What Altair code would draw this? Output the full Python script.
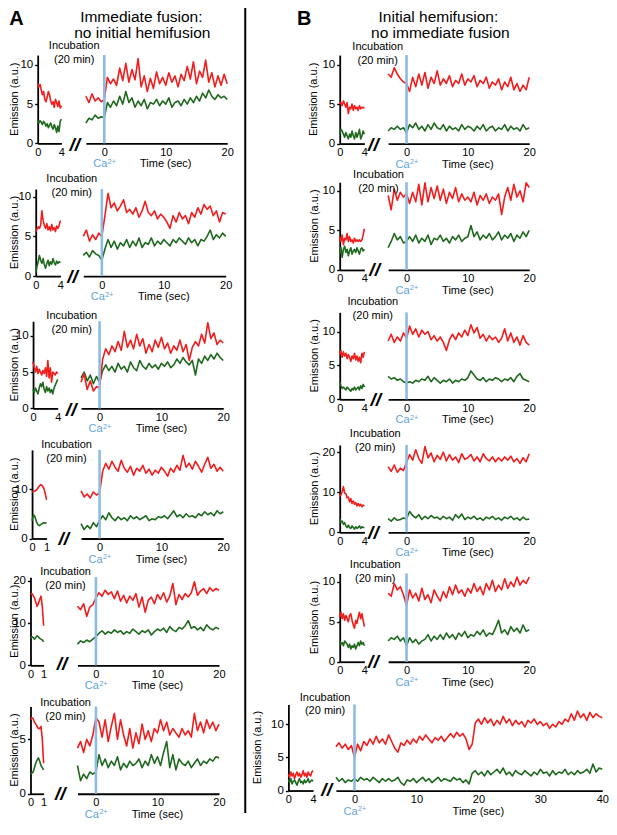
import altair as alt
import pandas as pd

FONT = "Liberation Sans"
RED = "#f21c1c"
GREEN = "#1f691f"
BLUE = "#8dbce3"
BLUE_TXT = "#5ea3da"
W, H = 601, 814
SX = 0.987   # slight horizontal compression so the page does not overflow
SY = 0.978   # slight vertical compression so the page does not overflow


def XC(xr):
    return 6 + (xr - 14) * SX


def YC(yr):
    return 6 + (yr - 11) * SY


# ---------------- data (emission, a.u.) ----------------
# pre-incubation traces: 0..4 s step 0.2  (or 0..1 s step 0.1)
# post-Ca traces: -3..20 s (or -3..40 s) step 0.5
A1_pre_red = [7.6,7.2,7.5,6.8,6.2,6.6,5.6,5.3,5.9,6.6,6.2,5.4,5.0,5.3,4.6,5.6,5.2,4.7,5.4,4.5,4.8]
A1_pre_green = [3.0,2.6,2.9,2.7,2.4,2.8,2.6,2.2,2.5,2.0,2.3,2.6,2.1,1.8,2.4,2.0,1.4,2.2,1.5,2.8,3.1]
A1_red = [6.0,5.2,6.3,5.4,5.8,5.3,5.6,
          8.4,7.6,8.2,7.4,9.6,8.0,10.2,7.8,9.4,8.1,
          10.8,7.2,8.6,6.6,8.3,7.0,9.1,7.6,8.4,7.4,
          9.0,7.8,8.6,7.2,8.8,8.0,9.8,8.2,10.4,7.6,
          9.2,8.4,10.6,7.8,9.0,7.2,8.6,7.4,8.8,7.6]
A1_green = [2.6,3.2,3.0,3.6,3.2,3.4,3.3,
            5.2,4.6,5.4,4.8,6.0,5.0,6.6,5.2,5.8,4.6,
            5.4,4.8,5.6,4.4,5.2,5.0,5.6,4.8,5.4,5.0,
            5.8,4.6,5.2,5.4,4.8,5.6,5.0,5.8,5.2,6.0,
            5.4,6.4,5.8,6.8,6.0,5.6,6.2,5.8,6.0,5.6]

A2_pre_red = [5.6,5.9,6.2,6.0,6.4,8.2,7.0,6.4,6.0,6.6,5.8,6.2,5.7,6.5,5.8,6.1,5.6,6.3,6.0,6.4,7.0]
A2_pre_green = [0.4,1.2,1.8,2.6,2.0,1.6,2.2,1.4,1.0,1.6,2.0,1.3,1.8,1.5,2.2,1.7,1.4,1.9,1.6,1.8,1.7]
A2_red = [5.0,5.8,4.4,5.2,4.6,5.4,5.0,
          7.6,10.4,8.6,9.2,8.2,8.8,9.6,8.0,8.4,7.8,
          8.6,7.4,8.2,9.4,8.0,7.6,8.2,7.2,7.8,7.4,
          6.8,6.0,7.6,6.8,8.0,7.2,7.6,6.6,8.0,7.4,
          8.6,7.8,9.0,8.4,8.8,7.6,8.2,6.8,8.0,7.8]
A2_green = [2.6,3.0,2.4,3.2,2.8,2.6,2.0,
            3.4,4.6,3.6,4.4,3.4,4.2,3.8,4.6,3.6,4.4,
            3.8,4.8,3.6,4.2,4.0,4.8,3.8,4.4,4.0,4.6,
            4.2,3.8,4.6,4.2,4.8,4.4,4.0,4.8,4.2,4.6,
            3.8,4.6,4.4,5.0,5.8,4.6,5.2,4.8,5.4,5.0]

A3_pre_red = [6.4,5.6,5.0,5.8,4.8,5.4,5.0,4.6,5.2,4.8,5.6,4.4,6.6,4.2,5.6,3.6,5.0,4.8,4.6,5.0,4.8]
A3_pre_green = [2.6,2.2,2.8,2.4,2.0,2.8,3.4,3.0,3.6,2.6,2.2,3.0,2.4,2.8,2.2,2.6,2.0,2.8,3.2,3.6,4.0]
A3_red = [3.6,4.8,2.6,3.8,2.4,3.0,2.8,
          6.8,8.2,7.4,8.6,7.8,9.2,8.0,10.6,8.4,9.4,
          8.2,10.2,8.6,9.6,7.6,8.8,7.8,9.4,8.4,9.8,
          8.2,9.0,7.6,8.6,8.0,9.4,7.8,8.8,6.6,8.4,
          9.2,8.6,10.2,9.0,11.8,9.6,10.4,8.8,9.4,9.0]
A3_green = [4.2,5.0,3.8,4.6,3.4,4.4,3.6,
            5.2,6.0,5.2,5.8,5.0,6.2,5.4,5.8,5.0,6.4,
            5.6,5.2,6.6,5.8,5.4,6.2,5.6,6.0,5.4,6.2,
            5.8,6.4,5.6,6.0,6.8,6.2,7.0,6.4,6.0,6.6,
            4.6,6.8,6.2,7.2,6.6,7.4,6.8,7.6,7.0,6.6]

A4_pre_red = [9.4,9.5,9.6,9.8,10.2,10.6,10.9,10.7,10.2,9.2,7.8]
A4_pre_green = [3.6,4.8,4.4,3.4,2.8,2.6,2.8,3.0,3.2,3.1,3.2]
A4_red = [9.6,8.4,9.0,8.2,9.4,8.8,9.2,
          13.6,15.2,14.0,15.6,14.4,13.6,15.8,14.2,13.4,14.6,
          12.8,14.2,13.6,14.8,13.2,14.0,12.8,13.8,13.2,14.4,
          13.6,12.6,14.2,13.4,14.8,13.8,16.8,14.4,15.2,14.0,
          15.6,14.6,13.4,15.0,16.4,14.2,15.0,13.6,14.4,13.6]
A4_green = [3.0,1.8,2.6,2.0,3.2,2.4,3.6,
            4.6,3.8,5.2,4.2,3.6,4.4,3.8,4.2,3.6,4.6,
            4.0,4.4,3.8,4.2,4.6,3.6,4.0,3.8,4.4,4.2,
            4.6,4.0,4.8,5.6,4.4,4.8,4.2,5.0,4.4,4.6,
            4.2,5.0,4.6,5.4,4.8,5.2,4.6,5.6,5.0,5.4]

A5_pre_red = [16.8,17.0,16.6,16.0,15.0,14.0,14.6,15.6,16.4,14.0,9.4]
A5_pre_green = [6.4,6.8,6.6,6.2,6.6,7.0,6.8,6.4,6.2,6.0,5.6]
A5_red = [14.0,13.2,14.6,11.6,13.8,14.4,16.0,
          17.2,16.4,17.8,16.8,17.4,15.8,17.6,15.2,16.6,14.8,
          16.4,15.4,17.0,13.8,16.2,12.6,15.4,16.2,14.6,16.8,
          15.6,17.2,15.0,16.4,19.4,14.4,16.8,15.6,17.0,16.2,
          17.2,19.8,16.6,17.6,18.2,17.0,18.4,17.6,18.2,17.8]
A5_green = [5.0,5.8,5.4,6.0,5.6,6.2,6.8,
            7.6,8.2,7.4,8.0,7.6,8.4,7.8,8.2,7.4,8.0,
            7.6,8.6,8.0,7.4,8.2,7.8,8.4,7.2,8.0,8.6,
            8.2,8.8,7.8,9.2,8.4,8.0,9.0,8.6,9.4,10.6,
            8.8,9.2,8.4,9.0,8.2,9.6,8.8,8.4,9.0,8.6]

A6_pre_red = [6.8,7.0,6.9,6.6,6.4,6.2,6.0,6.0,6.2,5.0,2.8]
A6_pre_green = [1.8,1.9,2.0,2.4,2.8,3.1,3.3,3.0,2.6,2.4,2.2]
A6_red = [4.2,4.8,3.8,5.0,4.4,5.4,7.0,
          6.6,5.2,6.8,4.8,6.2,7.4,5.0,6.8,5.4,4.4,
          6.0,4.2,5.6,4.6,6.4,5.0,5.8,4.8,6.0,5.6,
          6.8,5.8,6.6,5.4,6.0,5.6,5.2,6.0,5.4,5.8,
          5.2,7.4,5.8,6.6,5.6,6.8,6.0,6.6,5.8,6.4]
A6_green = [2.6,1.2,1.8,1.4,2.0,1.8,2.0,
            3.6,2.6,3.2,2.4,3.0,2.6,3.4,2.2,2.8,2.4,
            3.0,2.6,2.8,3.2,2.4,3.0,2.6,3.6,2.8,3.4,
            2.6,3.8,4.8,2.4,3.6,2.2,3.2,2.8,2.6,3.0,
            2.4,2.8,3.2,2.6,3.0,2.8,3.2,3.0,3.4,3.3]

B1_pre_red = [5.0,5.2,4.8,5.4,5.0,4.6,5.2,3.8,4.6,4.4,5.0,4.2,4.8,4.4,4.6,4.2,4.8,4.4,4.6,4.5,4.6]
B1_pre_green = [1.2,1.8,1.6,1.2,0.8,1.4,1.0,0.6,1.2,0.8,1.6,1.0,0.6,1.4,0.8,1.2,1.8,0.6,1.0,1.6,1.2]
B1_red = [8.8,8.4,9.6,8.8,8.2,7.8,7.6,
          6.6,8.4,7.2,8.8,7.4,9.0,7.0,8.4,7.6,9.2,
          7.4,8.2,7.6,8.6,7.2,8.0,7.6,8.8,7.4,8.2,
          7.8,8.6,7.2,8.0,7.6,8.4,7.0,7.8,7.4,8.2,
          6.8,7.8,7.2,8.4,6.8,7.6,6.6,7.4,6.8,8.4]
B1_green = [1.6,2.0,1.8,2.2,1.8,2.0,1.4,
            2.4,2.0,2.6,1.8,2.2,1.6,2.4,1.8,2.6,2.0,
            1.8,2.4,1.6,2.2,1.8,2.0,1.6,2.4,1.8,2.2,
            2.0,1.6,2.2,1.8,2.4,1.6,2.0,2.2,1.6,2.0,
            1.8,2.4,1.6,2.2,1.8,2.0,1.6,2.4,1.8,2.0]

B2_pre_red = [4.2,3.6,4.4,3.2,4.0,3.8,4.6,3.6,4.2,3.6,3.8,3.4,4.0,3.6,3.8,3.6,3.8,3.6,3.8,4.4,5.2]
B2_pre_green = [2.0,2.8,1.6,2.6,3.0,2.2,2.6,1.8,2.4,2.8,2.0,2.4,2.6,2.2,2.8,2.4,2.0,2.6,2.8,2.4,2.6]
B2_red = [9.4,7.6,10.2,8.8,9.8,9.2,9.6,
          8.4,9.8,8.6,10.8,8.2,11.0,8.6,10.4,9.0,10.6,
          8.8,10.2,8.4,9.8,9.0,10.4,8.6,9.6,8.8,9.2,
          8.6,9.8,8.2,9.4,8.8,9.6,8.4,9.2,8.8,9.6,
          7.0,9.2,10.4,8.8,10.8,9.2,10.0,8.6,11.0,10.4]
B2_green = [2.8,3.6,4.6,3.8,4.2,3.4,3.6,
            4.2,3.6,4.4,3.4,4.0,3.6,4.4,3.2,4.0,3.8,
            4.4,3.6,4.0,3.4,4.2,3.8,4.4,3.6,4.0,4.2,
            5.6,4.2,4.8,3.8,4.4,4.0,4.6,3.8,4.2,4.8,
            3.8,4.4,4.0,4.6,3.6,4.4,4.0,4.8,4.2,5.0]

B3_pre_red = [6.6,7.2,6.2,7.0,6.4,6.8,6.0,6.6,6.2,5.6,6.4,6.0,6.8,5.8,6.4,5.6,6.2,5.4,6.8,6.2,7.0]
B3_pre_green = [2.6,2.0,1.6,1.8,1.6,1.4,1.8,1.6,1.4,1.2,1.6,1.4,1.8,1.4,1.6,1.8,1.4,2.0,1.6,2.2,1.8]
B3_red = [8.6,9.6,8.4,9.2,8.6,9.8,9.0,
          10.8,9.6,10.4,9.2,10.2,9.6,10.0,8.8,9.4,8.6,
          9.2,8.4,7.2,8.8,9.6,8.8,9.8,9.2,10.2,9.4,
          11.0,9.8,10.6,9.0,9.6,8.6,9.4,8.8,9.2,8.4,
          9.0,10.4,8.6,9.8,8.4,9.2,8.0,9.4,8.4,8.0]
B3_green = [3.4,3.0,3.2,2.8,3.0,2.6,2.4,
            2.6,2.4,2.8,2.6,3.0,2.8,3.4,2.6,3.2,2.8,
            2.4,2.8,2.6,3.0,2.4,2.8,2.6,3.0,2.8,3.2,
            4.2,3.6,3.0,2.8,3.2,2.6,3.0,2.8,3.2,3.0,
            2.6,3.0,2.8,3.2,2.6,3.4,3.8,3.0,2.8,2.6]

B4_pre_red = [9.0,9.4,10.2,11.4,9.8,9.6,8.6,8.8,7.6,8.4,7.2,7.8,7.0,7.4,6.6,7.2,6.6,7.0,6.4,6.8,6.6]
B4_pre_green = [3.4,2.6,2.8,2.0,2.4,1.6,1.2,1.8,1.2,1.0,1.6,1.2,0.8,1.4,1.0,1.2,1.6,1.0,1.4,1.2,1.2]
B4_red = [16.4,15.2,16.8,15.0,16.0,15.4,17.4,
          19.4,18.0,20.6,18.4,17.2,21.4,18.6,19.8,17.6,19.2,
          18.2,20.0,17.8,19.4,18.0,18.8,17.4,19.6,18.2,18.6,
          19.4,17.8,18.8,17.6,19.6,18.4,17.8,18.8,17.6,18.6,
          17.8,18.8,18.0,19.0,17.6,18.4,17.2,18.6,17.6,19.6]
B4_green = [3.4,2.8,3.6,3.0,3.2,3.6,3.4,
            5.2,4.2,3.6,4.4,3.2,4.0,3.4,4.2,3.6,3.8,
            3.2,4.0,3.4,3.8,3.0,4.4,3.6,4.6,3.2,3.8,
            3.4,4.0,3.2,3.6,3.0,3.8,3.4,4.0,3.2,3.6,
            3.0,3.8,3.4,4.0,3.2,3.6,3.0,3.8,3.2,3.3]

B5_pre_red = [5.6,6.2,5.4,6.0,5.2,5.8,5.4,5.0,5.8,6.0,5.2,4.6,4.2,5.2,4.8,5.6,6.2,5.4,6.0,5.2,4.4]
B5_pre_green = [2.6,2.2,2.4,2.0,2.6,2.4,2.2,1.8,2.2,1.6,2.0,1.8,2.2,1.6,2.0,2.4,2.0,2.6,2.2,2.4,2.0]
B5_red = [8.6,8.2,9.8,9.0,9.4,8.4,7.0,
          9.0,8.0,8.6,7.6,9.2,7.8,8.4,7.4,9.0,8.2,
          7.6,8.8,8.0,9.4,8.4,9.6,8.6,9.0,8.2,9.2,
          8.6,9.8,8.8,9.4,8.4,9.8,9.0,10.2,8.8,9.6,
          9.0,10.4,9.2,10.0,9.4,10.6,9.6,10.2,9.8,10.6]
B5_green = [2.6,3.0,2.8,3.2,2.6,3.0,2.0,
            3.0,2.4,2.8,2.2,2.6,2.8,3.4,2.6,3.2,2.8,
            3.4,2.8,3.6,3.0,3.4,2.8,3.6,3.2,3.8,3.0,
            3.4,3.2,3.8,3.4,4.0,3.2,3.6,3.4,4.2,5.2,
            3.6,4.0,3.4,4.4,3.8,4.2,3.6,4.6,3.8,4.0]

B6_pre_red = [2.4,2.0,2.8,2.2,2.6,1.8,2.4,2.8,2.2,2.6,2.0,2.4,3.0,2.2,2.6,2.0,2.8,2.4,2.2,2.8,3.0]
B6_pre_green = [1.6,1.2,1.8,1.0,1.4,1.6,1.2,0.8,1.4,1.8,1.2,1.4,1.0,1.6,1.2,1.4,1.8,1.2,1.4,1.6,1.4]
B6_red = [6.6,7.2,6.4,7.0,6.2,6.8,5.0,
          7.0,6.0,7.4,6.8,7.8,7.0,8.2,7.2,7.8,7.0,
          8.4,7.4,6.4,5.8,7.2,6.8,7.6,7.0,7.8,7.2,
          8.2,7.6,8.4,7.8,7.2,8.0,7.6,8.2,7.4,8.0,
          8.6,8.0,8.8,8.2,8.6,7.8,6.2,7.0,10.2,10.8,
          10.0,11.0,10.2,10.8,9.8,10.6,10.0,11.2,10.2,10.8,
          9.8,10.6,10.0,10.4,9.6,10.6,10.2,10.8,10.0,10.4,
          9.8,10.2,9.4,10.0,9.6,10.4,10.0,10.8,10.4,11.6,
          10.6,12.0,11.0,11.6,10.6,11.8,11.0,11.6,11.2,11.0]
B6_green = [2.0,1.4,1.8,1.2,1.6,1.4,1.8,
            1.4,2.0,1.6,1.8,1.4,2.0,1.6,1.2,1.8,1.4,
            1.8,1.4,1.6,2.0,1.2,0.8,1.6,1.4,1.8,1.2,
            1.6,2.0,1.4,1.8,1.2,1.6,2.0,1.4,1.8,1.6,
            1.4,2.0,1.6,1.8,1.2,1.6,1.0,2.6,3.0,2.4,
            2.8,2.2,3.0,2.4,2.8,3.2,2.6,3.4,2.4,2.8,
            2.2,3.0,2.6,2.4,3.0,2.6,2.2,2.8,2.4,3.2,
            2.6,2.8,2.2,3.0,2.4,2.8,2.6,3.2,2.4,2.8,
            2.4,3.0,2.6,2.8,3.2,2.6,4.0,2.8,3.4,3.2]

# ---------------- panel geometry (reference pixels) ----------------
def P(name, pre_red, pre_green, pre_max, pre_x, main_red, main_green, tmax, main_x,
      y0, yref, ytop, yticks, xticks, brk, brk_dy, incub, emis_x, time_t=10, ca_dy=21):
    return dict(name=name, pre_red=pre_red, pre_green=pre_green, pre_max=pre_max,
                pre_step=0.2 if pre_max == 4 else 0.1, pre_x=pre_x,
                main_red=main_red, main_green=main_green, tmax=tmax, main_x=main_x,
                y0=y0, yref=yref, ytop=ytop, yticks=yticks, xticks=xticks, brk=brk,
                brk_dy=brk_dy, incub=incub, emis_x=emis_x, time_t=time_t, ca_dy=ca_dy)

T20 = [0, 10, 20]
PANELS = [
    P("A1", A1_pre_red, A1_pre_green, 4, (38, 62), A1_red, A1_green, 20, (105.5, 230),
      143.3, (10, 63), 11.25, [0, 5, 10], T20, -4.8, 2, (75, 43.7, 57.7), 6),
    P("A2", A2_pre_red, A2_pre_green, 4, (36, 61), A2_red, A2_green, 20, (103, 228.5),
      279, (10, 197.7), 10.95, [0, 5, 10], T20, -4.75, 0.5, (72.5, 179.5, 193.8), 11),
    P("A3", A3_pre_red, A3_pre_green, 4, (33.3, 58.3), A3_red, A3_green, 20, (100.7, 226),
      414.3, (10, 340), 12.0, [0, 5, 10], T20, -4.6, 2, (72.5, 319.5, 333.8), 9),
    P("A4", A4_pre_red, A4_pre_green, 1, (32.3, 47), A4_red, A4_green, 20, (100.7, 226),
      547.3, (10, 496.7), 17.9, [0, 10], T20, -5.8, 0.5, (67.2, 452, 466.2), 8),
    P("A5", A5_pre_red, A5_pre_green, 1, (30.7, 44), A5_red, A5_green, 20, (97, 221.7),
      677, (20, 590.7), 20.9, [0, 10, 20], T20, -5.5, -1, (66.2, 582, 596.2), 6),
    P("A6", A6_pre_red, A6_pre_green, 1, (30.7, 44), A6_red, A6_green, 20, (97, 221.7),
      808.3, (5, 752.7), 8.03, [0, 5], T20, -5.8, 0.5, (66.2, 715.3, 729.5), 6),
    P("B1", B1_pre_red, B1_pre_green, 4, (344, 369), B1_red, B1_green, 20, (411.7, 536),
      143.5, (10, 62.7), 11.2, [0, 5, 10], T20, -5.4, 1.5, (382.5, 44.7, 58.7), 318),
    P("B2", B2_pre_red, B2_pre_green, 4, (344, 369), B2_red, B2_green, 20, (411.7, 536),
      272.7, (10, 191.7), 11.07, [0, 5, 10], T20, -5.2, 0.5, (383.3, 176.0, 189.6), 319),
    P("B3", B3_pre_red, B3_pre_green, 4, (344, 369), B3_red, B3_green, 20, (411.7, 536),
      405, (10, 335.7), 12.84, [0, 5, 10], T20, -5.0, 0.5, (377.5, 305.5, 320.3), 319),
    P("B4", B4_pre_red, B4_pre_green, 4, (344, 369), B4_red, B4_green, 20, (411.7, 536),
      541, (20, 459), 21.8, [0, 10, 20], T20, -5.4, 0.5, (380, 440.5, 454.7), 319),
    P("B5", B5_pre_red, B5_pre_green, 4, (344, 369), B5_red, B5_green, 20, (411.7, 536),
      673.3, (10, 591.7), 11.07, [0, 5, 10], T20, -5.4, 0.5, (380, 574.7, 588.7), 319),
    P("B6", B6_pre_red, B6_pre_green, 4, (292, 317), B6_red, B6_green, 40, (359, 610),
      805, (10, 737.3), 13.0, [0, 5, 10], [0, 10, 20, 30, 40], -4.5, -1, (329.2, 710.3, 723.8), 261,
      time_t=20),
]


def line_df(vals, start, step):
    return pd.DataFrame({"t": [round(start + step * i, 3) for i in range(len(vals))], "v": vals})


def one(**kw):
    return pd.DataFrame({k: [v] for k, v in kw.items()})


def xaxis(offset, values):
    return alt.Axis(orient="bottom", offset=offset, values=values, tickSize=0, labelPadding=3,
                    labelFontSize=11, grid=False, title=None, labelFlush=False, labelOverlap=False,
                    format="d")


def panel_layers(p):
    k = (p["y0"] - p["yref"][1]) / p["yref"][0]
    ytop_px = p["y0"] - p["ytop"] * k
    y0c, ytc = YC(p["y0"]), YC(ytop_px)
    y_rng = [y0c, ytc]
    ydom = [0, p["ytop"]]
    xoff = y0c - H

    # ---- pre-incubation panel ----
    pre_rng = [XC(p["pre_x"][0]), XC(p["pre_x"][1])]
    Xp = alt.X("t:Q", scale=alt.Scale(domain=[0, p["pre_max"]], range=pre_rng, nice=False, zero=False),
               axis=xaxis(xoff, [0, p["pre_max"]]))
    Yp = alt.Y("v:Q", scale=alt.Scale(domain=ydom, range=y_rng, nice=False, zero=False),
               axis=alt.Axis(orient="left", offset=-XC(p["pre_x"][0]), values=p["yticks"], tickSize=3,
                             tickWidth=1.4, labelPadding=2, labelFontSize=11.5, grid=False, title=None,
                             labelFlush=False, labelOverlap=False, format="d"))
    pre = alt.layer(
        alt.Chart(line_df(p["pre_green"], 0, p["pre_step"])).mark_line(
            color=GREEN, strokeWidth=1.6, strokeJoin="round").encode(x=Xp, y=Yp),
        alt.Chart(line_df(p["pre_red"], 0, p["pre_step"])).mark_line(
            color=RED, strokeWidth=1.6, strokeJoin="round").encode(x=Xp, y=Yp),
    )

    # ---- post-Ca panel ----
    s = (p["main_x"][1] - p["main_x"][0]) / p["tmax"]
    main_rng = [XC(p["main_x"][0] - 3 * s), XC(p["main_x"][1])]
    Xm = alt.X("t:Q", scale=alt.Scale(domain=[-3, p["tmax"]], range=main_rng, nice=False, zero=False),
               axis=xaxis(xoff, p["xticks"]))
    Ym = alt.Y("v:Q", scale=alt.Scale(domain=ydom, range=y_rng, nice=False, zero=False), axis=None)
    txt = dict(font=FONT, baseline="middle")
    cdy = p["ca_dy"]
    main = alt.layer(
        alt.Chart(line_df(p["main_green"], -3, 0.5)).mark_line(
            color=GREEN, strokeWidth=1.6, strokeJoin="round").encode(x=Xm, y=Ym),
        alt.Chart(line_df(p["main_red"], -3, 0.5)).mark_line(
            color=RED, strokeWidth=1.6, strokeJoin="round").encode(x=Xm, y=Ym),
        alt.Chart(one(t=0, v=0, v2=p["ytop"])).mark_rule(color=BLUE, strokeWidth=2.6).encode(
            x=Xm, y=Ym, y2="v2:Q"),
        alt.Chart(one(t=0, v=0)).mark_text(text="Ca", align="right", dx=3, dy=cdy,
                                           fontSize=11, color=BLUE_TXT, **txt).encode(x=Xm, y=Ym),
        alt.Chart(one(t=0, v=0)).mark_text(text="2+", align="left", dx=3.5, dy=cdy - 2.5,
                                           fontSize=7, color=BLUE_TXT, **txt).encode(x=Xm, y=Ym),
        alt.Chart(one(t=p["time_t"], v=0)).mark_text(text="Time (sec)", align="center", dy=cdy,
                                                     fontSize=11, color="black", **txt).encode(x=Xm, y=Ym),
        alt.Chart(one(t=p["brk"], v=0)).mark_text(text="//", align="center", dy=p["brk_dy"], fontSize=19,
                                                  fontStyle="italic", fontWeight="bold", color="black",
                                                  **txt).encode(x=Xm, y=Ym),
    )
    return [pre, main], (p["y0"] + ytop_px) / 2


layers = []
incub_rows, emis_rows = [], []
for p in PANELS:
    pl, ymid = panel_layers(p)
    layers += pl
    ix, iy1, iy2 = p["incub"]
    incub_rows.append({"x": XC(ix), "y": YC(iy1), "text": "Incubation"})
    incub_rows.append({"x": XC(ix), "y": YC(iy2), "text": "(20 min)"})
    emis_rows.append({"x": max(XC(p["emis_x"]), 7), "y": YC(ymid), "text": "Emission (a.u.)"})

PX = lambda f: alt.X(f, scale=None)
PY = lambda f: alt.Y(f, scale=None)

incub = alt.Chart(pd.DataFrame(incub_rows)).mark_text(
    font=FONT, fontSize=11, color="black", baseline="middle", align="center").encode(
    x=PX("x:Q"), y=PY("y:Q"), text="text:N")
emis = alt.Chart(pd.DataFrame(emis_rows)).mark_text(
    font=FONT, fontSize=11, color="black", baseline="middle", align="center", angle=270).encode(
    x=PX("x:Q"), y=PY("y:Q"), text="text:N")
titles = alt.Chart(pd.DataFrame([
    {"x": XC(143), "y": 9, "text": "Immediate fusion:"},
    {"x": XC(144), "y": 24.5, "text": "no initial hemifusion"},
    {"x": XC(444), "y": 9, "text": "Initial hemifusion:"},
    {"x": XC(446), "y": 24.5, "text": "no immediate fusion"},
])).mark_text(font=FONT, fontSize=15.5, color="black", baseline="middle", align="center").encode(
    x=PX("x:Q"), y=PY("y:Q"), text="text:N")
letters = alt.Chart(pd.DataFrame([
    {"x": max(XC(15), 8.5), "y": 10.5, "text": "A"},
    {"x": XC(308), "y": 10.5, "text": "B"},
])).mark_text(font=FONT, fontSize=20, fontWeight="bold", color="black", baseline="middle",
              align="center").encode(x=PX("x:Q"), y=PY("y:Q"), text="text:N")
divider = alt.Chart(one(x=XC(248.3), y=YC(4), y2=YC(828))).mark_rule(color="black", strokeWidth=2).encode(
    x=PX("x:Q"), y=PY("y:Q"), y2="y2:Q")

chart = alt.layer(*layers, divider, incub, emis, titles, letters).resolve_scale(
    x="independent", y="independent"
).properties(
    width=W, height=H, padding=0, autosize=alt.AutoSizeParams(type="none")
).configure_view(stroke=None).configure_axis(
    labelFont=FONT, labelColor="black", domainColor="black",
    domainWidth=1.8, tickColor="black", grid=False
)

chart.save("out.html", embed_options={"renderer": "svg", "actions": False})
